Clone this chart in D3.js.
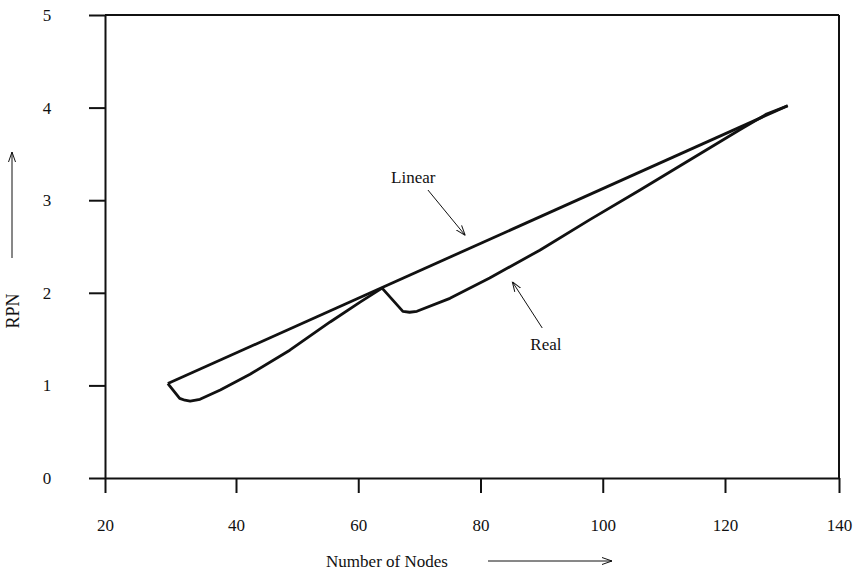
<!DOCTYPE html>
<html>
<head>
<meta charset="utf-8">
<title>RPN vs Number of Nodes</title>
<script src="https://d3js.org/d3.v7.min.js"></script>
<style>
  body { margin: 0; background: #fff; }
  text { font-family: "Liberation Serif", "DejaVu Serif", serif; fill: #111; }
</style>
</head>
<body>
<svg id="chart" width="856" height="573"></svg>
<script>
// axis ticks
var xTicks = [20, 40, 60, 80, 100, 120, 140];
var yTicks = [0, 1, 2, 3, 4, 5];

// "Linear" series
var linearX = [29.6, 131];
var linearY = [1.02, 4.02];

// "Real" series
var realX = [29.6, 31.4, 32.2, 33.0, 34.5, 37.6, 42.3, 48.8, 55.4, 60.3, 63.9, 67.3, 68.4, 69.6, 75.0, 81.5, 89.7, 97.9, 106.1, 112.6, 122.6, 127.3, 131.0];
var realY = [1.02, 0.86, 0.84, 0.83, 0.85, 0.95, 1.12, 1.38, 1.685, 1.90, 2.05, 1.80, 1.79, 1.80, 1.94, 2.16, 2.46, 2.79, 3.11, 3.37, 3.76, 3.93, 4.02];

// labels with arrows: text position, arrow tail, arrow head (data units)
var notes = [
  {text: "Linear", tx: 69.0, ty: 3.25, x1: 71.4, y1: 3.11, x2: 77.5, y2: 2.62},
  {text: "Real",   tx: 90.7, ty: 1.44, x1: 90.1, y1: 1.62, x2: 85.2, y2: 2.12}
];

var svg = d3.select("#chart");

// the scanned x axis is not quite evenly spaced, so use a polylinear scale
var x = d3.scaleLinear().domain([20, 40, 120, 140]).range([105, 236, 725, 839]);
var y = d3.scaleLinear().domain([0, 5]).range([478, 15]);

svg.append("defs").append("marker")
  .attr("id", "arr")
  .attr("viewBox", "0 0 10 10")
  .attr("refX", 10).attr("refY", 5)
  .attr("markerWidth", 10).attr("markerHeight", 10)
  .attr("markerUnits", "userSpaceOnUse")
  .attr("orient", "auto")
  .append("path")
  .attr("d", "M0,1.5 L10,5 L0,8.5")
  .attr("fill", "none")
  .attr("stroke", "#111")
  .attr("stroke-width", 1);

// frame: top and right sides
svg.append("line")
  .attr("x1", x(20)).attr("x2", x(140))
  .attr("y1", y(5)).attr("y2", y(5))
  .attr("stroke", "#111").attr("stroke-width", 2);
svg.append("line")
  .attr("x1", x(140)).attr("x2", x(140))
  .attr("y1", y(5)).attr("y2", y(0))
  .attr("stroke", "#111").attr("stroke-width", 2);

var gx = svg.append("g")
  .attr("transform", "translate(0," + y(0) + ")")
  .call(d3.axisBottom(x).tickValues(xTicks).tickFormat(d3.format("d"))
    .tickSize(15).tickSizeOuter(0).tickPadding(26));
var gy = svg.append("g")
  .attr("transform", "translate(" + x(20) + ",0)")
  .call(d3.axisLeft(y).tickValues(yTicks).tickFormat(d3.format("d"))
    .tickSize(16).tickSizeOuter(0).tickPadding(42));

[gx, gy].forEach(function(g) {
  g.select(".domain").attr("stroke", "#111").attr("stroke-width", 2);
  g.selectAll(".tick line").attr("stroke", "#111").attr("stroke-width", 2);
  g.selectAll(".tick text")
    .style("font-family", '"Liberation Serif", serif')
    .style("font-size", "17px")
    .attr("fill", "#111");
});
gy.selectAll(".tick text").attr("text-anchor", "middle");

// data lines
var line = d3.line()
  .x(function(d) { return x(d[0]); })
  .y(function(d) { return y(d[1]); });

svg.append("path")
  .datum(d3.zip(linearX, linearY))
  .attr("d", line)
  .attr("fill", "none")
  .attr("stroke", "#111")
  .attr("stroke-width", 2.8);

svg.append("path")
  .datum(d3.zip(realX, realY))
  .attr("d", line)
  .attr("fill", "none")
  .attr("stroke", "#111")
  .attr("stroke-width", 2.8)
  .attr("stroke-linejoin", "round");

// annotations
notes.forEach(function(n) {
  svg.append("text")
    .attr("x", x(n.tx)).attr("y", y(n.ty))
    .attr("text-anchor", "middle")
    .attr("dominant-baseline", "central")
    .style("font-size", "17px")
    .text(n.text);
  svg.append("line")
    .attr("x1", x(n.x1)).attr("y1", y(n.y1))
    .attr("x2", x(n.x2)).attr("y2", y(n.y2))
    .attr("stroke", "#111").attr("stroke-width", 1)
    .attr("marker-end", "url(#arr)");
});

// axis titles with their arrows
svg.append("text")
  .attr("x", 387).attr("y", 561)
  .attr("text-anchor", "middle")
  .attr("dominant-baseline", "central")
  .style("font-size", "17px")
  .text("Number of Nodes");
svg.append("line")
  .attr("x1", 488).attr("y1", 561).attr("x2", 612).attr("y2", 561)
  .attr("stroke", "#111").attr("stroke-width", 1)
  .attr("marker-end", "url(#arr)");

svg.append("text")
  .attr("transform", "translate(13,311) rotate(-90)")
  .attr("text-anchor", "middle")
  .attr("dominant-baseline", "central")
  .style("font-size", "18px")
  .text("RPN");
svg.append("line")
  .attr("x1", 12).attr("y1", 258).attr("x2", 12).attr("y2", 152)
  .attr("stroke", "#111").attr("stroke-width", 1)
  .attr("marker-end", "url(#arr)");
</script>
</body>
</html>
